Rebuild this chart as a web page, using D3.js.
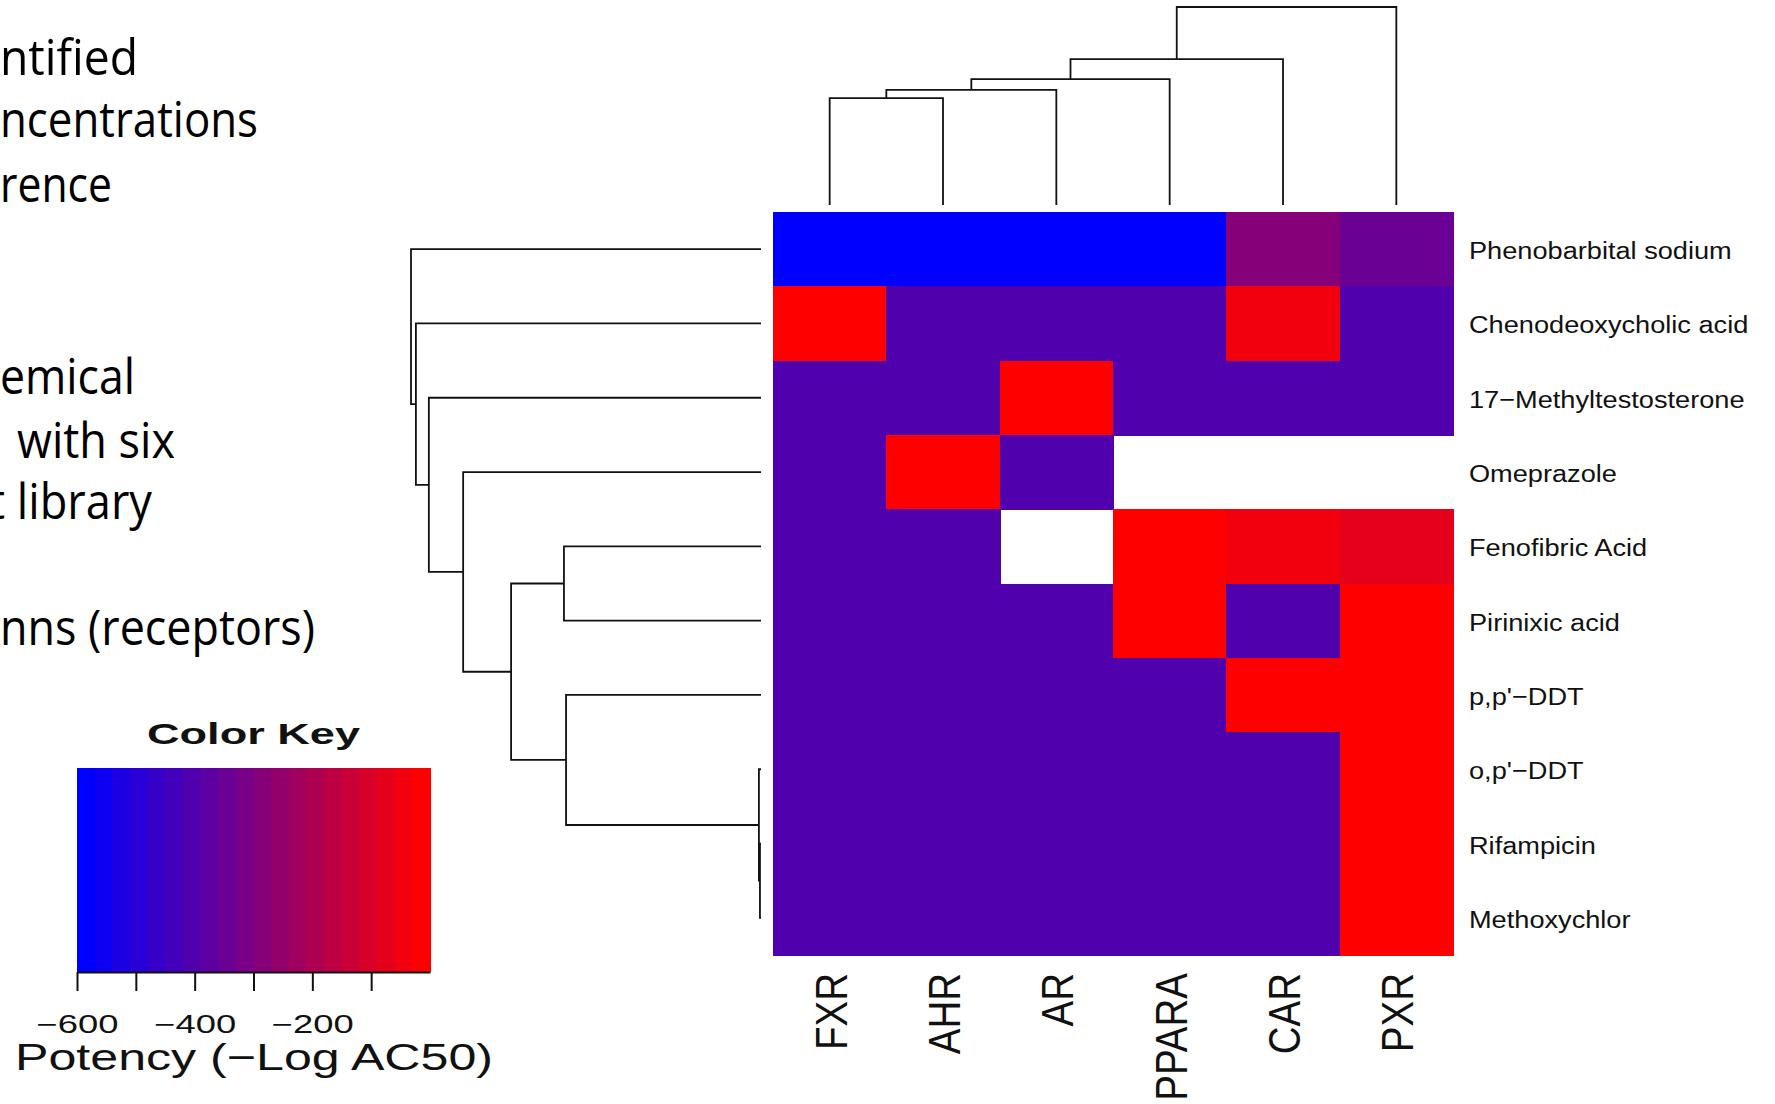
<!DOCTYPE html>
<html>
<head>
<meta charset="utf-8">
<script src="https://cdn.jsdelivr.net/npm/d3@7"></script>
<style>
  body { margin: 0; background: #fff; }
  svg { display: block; }
</style>
</head>
<body>
<script>
const w = 1775;
const h = 1104;

// columns (receptors) and rows (chemicals), in dendrogram order
const receptors = ["FXR", "AHR", "AR", "PPARA", "CAR", "PXR"];
const chemicals = [
  "Phenobarbital sodium",
  "Chenodeoxycholic acid",
  "17\u2212Methyltestosterone",
  "Omeprazole",
  "Fenofibric Acid",
  "Pirinixic acid",
  "p,p'\u2212DDT",
  "o,p'\u2212DDT",
  "Rifampicin",
  "Methoxychlor"
];

// potency (-log AC50), one array per chemical, same order as receptors; null = missing
const phenobarbital = [-590, -590, -590, -590, -285, -345];
const chenodeoxycholic = [-10, -405, -405, -405, -45, -405];
const methyltestosterone = [-405, -405, -10, -405, -405, -405];
const omeprazole = [-405, -10, -405, null, null, null];
const fenofibric = [-405, -405, null, -10, -45, -75];
const pirinixic = [-405, -405, -405, -10, -405, -10];
const ppDDT = [-405, -405, -405, -405, -10, -10];
const opDDT = [-405, -405, -405, -405, -405, -10];
const rifampicin = [-405, -405, -405, -405, -405, -10];
const methoxychlor = [-405, -405, -405, -405, -405, -10];
const potency = [phenobarbital, chenodeoxycholic, methyltestosterone, omeprazole,
  fenofibric, pirinixic, ppDDT, opDDT, rifampicin, methoxychlor];

// merge heights of the column dendrogram
const colTree = { h: 100, children: [
  { h: 73.7, children: [
    { h: 63.6, children: [
      { h: 58.1, children: [
        { h: 54, children: [{ name: "FXR" }, { name: "AHR" }] },
        { name: "AR" }] },
      { name: "PPARA" }] },
    { name: "CAR" }] },
  { name: "PXR" }] };

// merge heights of the row dendrogram
const rowTree = { h: 100, children: [
  { name: chemicals[0] },
  { h: 98.6, children: [
    { name: chemicals[1] },
    { h: 94.9, children: [
      { name: chemicals[2] },
      { h: 85.1, children: [
        { name: chemicals[3] },
        { h: 71.4, children: [
          { h: 56.3, children: [{ name: chemicals[4] }, { name: chemicals[5] }] },
          { h: 55.7, children: [
            { name: chemicals[6] },
            { h: 0.6, children: [
              { name: chemicals[7] },
              { h: 0.3, children: [{ name: chemicals[8] }, { name: chemicals[9] }] }] }] }] }] }] }] }] };

// color key
const keyDomain = [-600, 0];
const keyTicks = [-600, -500, -400, -300, -200, -100];
const keyLabels = [-600, -400, -200];

// leftover slide text (cut at the left edge)
const slideLines = [
  { t: "ntified", x0: 0, x1: 138, y: 75 },
  { t: "ncentrations", x0: 0, x1: 258, y: 137 },
  { t: "rence", x0: 0, x1: 112, y: 202 },
  { t: "emical", x0: 0, x1: 135, y: 394 },
  { t: "with six", x0: 17, x1: 175, y: 458 },
  { t: "t library", x0: -11, x1: 152, y: 519 },
  { t: "nns (receptors)", x0: 0, x1: 315, y: 645 }
];

const svg = d3.select("body").append("svg").attr("width", w).attr("height", h);

const x = d3.scaleBand().domain(receptors).range([773, 1453]);
const y = d3.scaleBand().domain(chemicals).range([212, 955]);
const color = d3.scaleQuantize()
  .domain(keyDomain)
  .range(d3.quantize(d3.interpolateRgb("blue", "red"), 20));

// heatmap cells
const cells = [];
chemicals.forEach(function (c, i) {
  receptors.forEach(function (r, j) {
    if (potency[i][j] != null) cells.push({ c: c, r: r, v: potency[i][j] });
  });
});
svg.append("g")
  .attr("shape-rendering", "crispEdges")
  .selectAll("rect")
  .data(cells)
  .enter()
  .append("rect")
  .attr("x", d => x(d.r))
  .attr("y", d => y(d.c))
  .attr("width", x.bandwidth() + 1)
  .attr("height", y.bandwidth() + 1)
  .attr("fill", d => color(d.v));

// dendrograms
function place(tree, pos) {
  const root = d3.hierarchy(tree);
  root.eachAfter(function (n) {
    n.p = n.children ? d3.mean(n.children, c => c.p) : pos(n.data.name);
    n.hv = n.data.h || 0;
  });
  return root;
}

const colRoot = place(colTree, d => x(d) + x.bandwidth() / 2);
const hy = d3.scaleLinear().domain([0, 100]).range([205, 7]);
svg.append("g")
  .selectAll("path")
  .data(colRoot.descendants().filter(n => n.children))
  .enter()
  .append("path")
  .attr("d", function (n) {
    const a = n.children[0], b = n.children[1];
    return "M" + a.p + "," + hy(a.hv) + "V" + hy(n.hv) + "H" + b.p + "V" + hy(b.hv);
  })
  .attr("fill", "none")
  .attr("stroke", "#111")
  .attr("stroke-width", 1.8);

const rowRoot = place(rowTree, d => y(d) + y.bandwidth() / 2);
const hx = d3.scaleLinear().domain([0, 100]).range([761, 411]);
svg.append("g")
  .selectAll("path")
  .data(rowRoot.descendants().filter(n => n.children))
  .enter()
  .append("path")
  .attr("d", function (n) {
    const a = n.children[0], b = n.children[1];
    return "M" + hx(a.hv) + "," + a.p + "H" + hx(n.hv) + "V" + b.p + "H" + hx(b.hv);
  })
  .attr("fill", "none")
  .attr("stroke", "#111")
  .attr("stroke-width", 1.8);

// row labels
svg.append("g")
  .selectAll("text")
  .data(chemicals)
  .enter()
  .append("text")
  .attr("transform", d => "translate(1469," + (y(d) + y.bandwidth() / 2 + 10) + ") scale(1.1,1)")
  .attr("font-family", "Liberation Sans, Arial, sans-serif")
  .attr("font-size", 24.7)
  .attr("fill", "#111")
  .text(d => d);

// column labels
svg.append("g")
  .selectAll("text")
  .data(receptors)
  .enter()
  .append("text")
  .attr("transform", d => "translate(" + (x(d) + x.bandwidth() / 2 + 17) + ",973) rotate(-90) scale(1,1.16)")
  .attr("text-anchor", "end")
  .attr("font-family", "Liberation Sans, Arial, sans-serif")
  .attr("font-size", 38.5)
  .attr("fill", "#111")
  .text(d => d);

// color key
const keyX = d3.scaleLinear().domain(keyDomain).range([77, 430]);
svg.append("g")
  .attr("shape-rendering", "crispEdges")
  .selectAll("rect")
  .data(color.range())
  .enter()
  .append("rect")
  .attr("x", d => keyX(color.invertExtent(d)[0]))
  .attr("y", 768)
  .attr("width", d => keyX(color.invertExtent(d)[1]) - keyX(color.invertExtent(d)[0]) + 1)
  .attr("height", 204)
  .attr("fill", d => d);

const keyAxis = d3.axisBottom(keyX)
  .tickValues(keyTicks)
  .tickSizeInner(19)
  .tickSizeOuter(0)
  .tickPadding(24)
  .tickFormat(d => keyLabels.includes(d) ? d3.format("d")(d) : "");

const ka = svg.append("g")
  .attr("transform", "translate(0,972)")
  .call(keyAxis);
ka.attr("font-family", "Liberation Sans, Arial, sans-serif").attr("font-size", 25);
ka.selectAll("line, path").attr("stroke", "#111").attr("stroke-width", 2);
ka.selectAll("text")
  .attr("fill", "#111")
  .filter(d => keyLabels.includes(d))
  .attr("textLength", 82)
  .attr("lengthAdjust", "spacingAndGlyphs");

svg.append("text")
  .attr("x", 253.5)
  .attr("y", 744)
  .attr("text-anchor", "middle")
  .attr("font-family", "Liberation Sans, Arial, sans-serif")
  .attr("font-weight", "bold")
  .attr("font-size", 30)
  .attr("textLength", 213)
  .attr("lengthAdjust", "spacingAndGlyphs")
  .attr("fill", "#111")
  .text("Color Key");

svg.append("text")
  .attr("x", 15)
  .attr("y", 1070)
  .attr("font-family", "Liberation Sans, Arial, sans-serif")
  .attr("font-size", 37.6)
  .attr("textLength", 478)
  .attr("lengthAdjust", "spacingAndGlyphs")
  .attr("fill", "#111")
  .text("Potency (\u2212Log AC50)");

// slide text behind the figure
svg.append("g")
  .selectAll("text")
  .data(slideLines)
  .enter()
  .append("text")
  .attr("x", d => d.x0)
  .attr("y", d => d.y)
  .attr("font-family", "Open Sans, sans-serif")
  .attr("font-size", 50)
  .attr("textLength", d => d.x1 - d.x0)
  .attr("lengthAdjust", "spacingAndGlyphs")
  .attr("fill", "#000")
  .text(d => d.t);
</script>
</body>
</html>
